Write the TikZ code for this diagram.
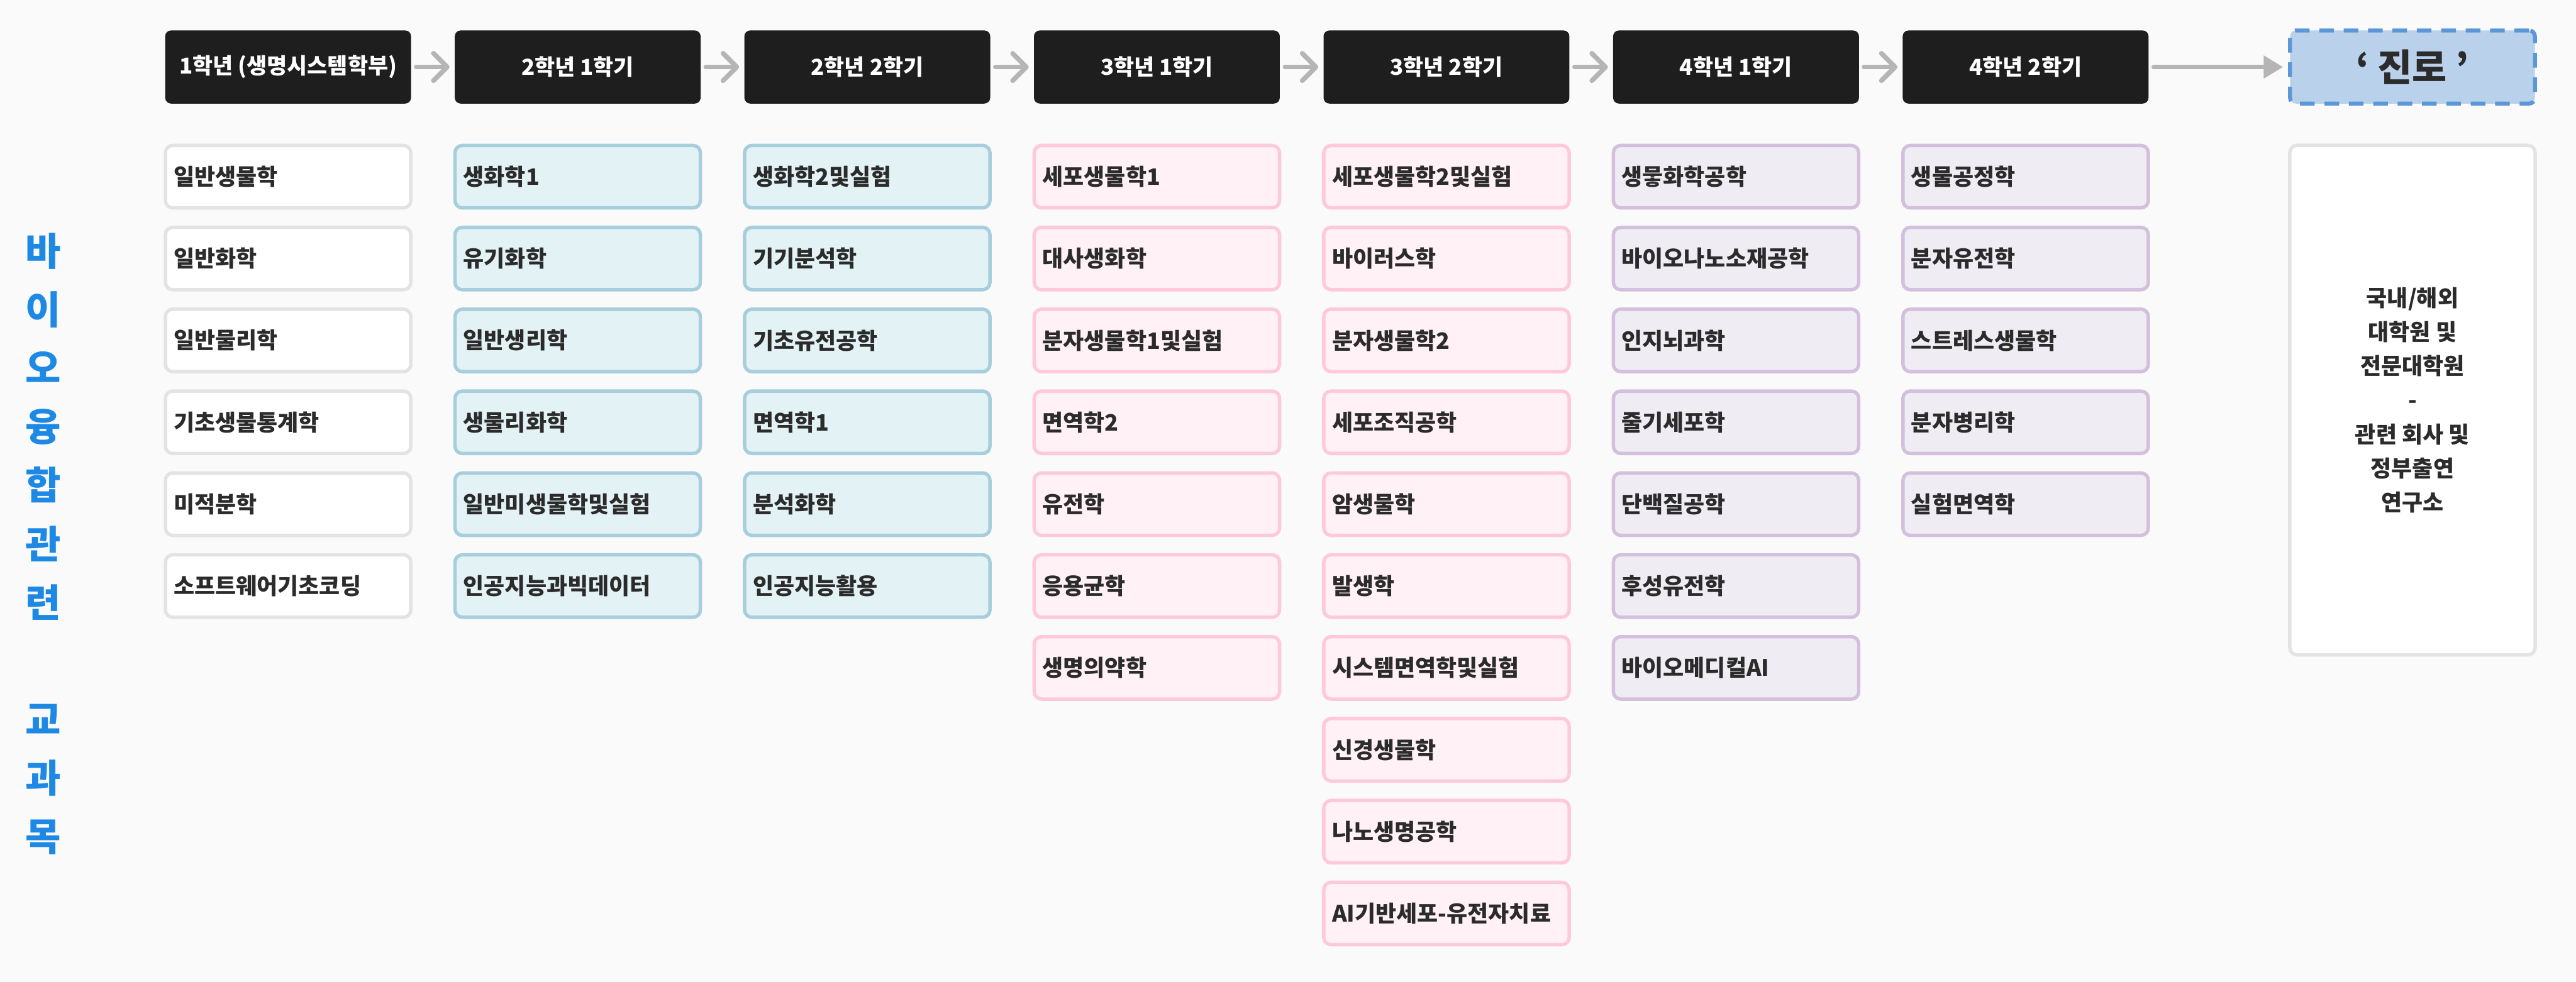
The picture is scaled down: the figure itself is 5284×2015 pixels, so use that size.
\documentclass[tikz,border=0pt]{standalone}
\usepackage{fontspec}
\setmainfont{Noto Sans CJK KR}
\usetikzlibrary{arrows.meta}
\definecolor{bgc}{HTML}{FAFAFA}
\definecolor{hdrc}{HTML}{1E1E1E}
\definecolor{arrc}{HTML}{B5B5B5}
\definecolor{txtc}{HTML}{2B2B2B}
\definecolor{ttlc}{HTML}{1E88E5}
\definecolor{wfill}{HTML}{FFFFFF}
\definecolor{wdraw}{HTML}{E3E3E3}
\definecolor{cfill}{HTML}{E2F2F5}
\definecolor{cdraw}{HTML}{A6CEDC}
\definecolor{pfill}{HTML}{FFF1F6}
\definecolor{pdraw}{HTML}{FFC9DC}
\definecolor{vfill}{HTML}{EFECF3}
\definecolor{vdraw}{HTML}{D3C0DC}
\definecolor{jfill}{HTML}{B9D1EB}
\definecolor{jdraw}{HTML}{5B96D6}
\tikzset{
  hdr/.style={rectangle, rounded corners=0.12cm, fill=hdrc, text=white,
    minimum width=5.04cm, minimum height=1.5cm, inner sep=0pt,
    font=\bfseries\fontsize{12.8pt}{15pt}\selectfont},
  course/.style={rectangle, rounded corners=0.15cm, line width=2pt,
    text width=4.69cm, align=left, inner xsep=0.17cm, inner ysep=0pt,
    minimum height=1.28cm, text=txtc,
    font=\bfseries\fontsize{13.2pt}{15.5pt}\selectfont},
  wbox/.style={course, fill=wfill, draw=wdraw},
  cbox/.style={course, fill=cfill, draw=cdraw},
  pbox/.style={course, fill=pfill, draw=pdraw},
  vbox/.style={course, fill=vfill, draw=vdraw},
  arr/.style={draw=arrc, line width=2.8pt, line cap=round,
    shorten <=0.1cm, shorten >=0.1cm,
    -{Straight Barb[round, length=0.28cm, width=0.56cm]}},
  lastarr/.style={draw=arrc, line width=2.8pt, line cap=round,
    shorten <=0.1cm, shorten >=0.1cm,
    -{Triangle[length=0.4cm, width=0.45cm]}},
}
\begin{document}
\begin{tikzpicture}[x=0.01cm, y=-0.01cm]
\fill[bgc] (0,0) rectangle (5284,2015);
\useasboundingbox (0,0) rectangle (5284,2015);

% vertical title
\node[text=ttlc, align=center, inner sep=0pt,
  font=\bfseries\fontsize{22.5pt}{34.14pt}\selectfont] (ttl) at (88,1116)
  {바\\이\\오\\융\\합\\관\\련\\[34.14pt]교\\과\\목};

% headers
\node[hdr] (h1) at (591,137.5) {1학년 (생명시스템학부)};
\node[hdr] (h2) at (1185,137.5) {2학년 1학기};
\node[hdr] (h3) at (1779,137.5) {2학년 2학기};
\node[hdr] (h4) at (2373,137.5) {3학년 1학기};
\node[hdr] (h5) at (2967,137.5) {3학년 2학기};
\node[hdr] (h6) at (3561,137.5) {4학년 1학기};
\node[hdr] (h7) at (4155,137.5) {4학년 2학기};
\node[rectangle, rounded corners=0.12cm, fill=jfill, draw=jdraw,
  line width=2.3pt, dash pattern=on 0.3cm off 0.2cm,
  minimum width=5.02cm, minimum height=1.5cm, inner sep=0pt, text=txtc,
  font=\bfseries\fontsize{22pt}{26pt}\selectfont] (jr) at (4948.5,137.5) {‘ 진로 ’};

\draw[arr] (h1.east) -- (h2.west);
\draw[arr] (h2.east) -- (h3.west);
\draw[arr] (h3.east) -- (h4.west);
\draw[arr] (h4.east) -- (h5.west);
\draw[arr] (h5.east) -- (h6.west);
\draw[arr] (h6.east) -- (h7.west);
\draw[lastarr] (h7.east) -- (jr.west);

% course columns
\foreach \t [count=\j from 0] in {일반생물학, 일반화학, 일반물리학, 기초생물통계학, 미적분학, 소프트웨어기초코딩}
  \node[wbox] (a\j) at (591,362.5+168*\j) {\t};
\foreach \t [count=\j from 0] in {생화학1, 유기화학, 일반생리학, 생물리화학, 일반미생물학및실험, 인공지능과빅데이터}
  \node[cbox] (b\j) at (1185,362.5+168*\j) {\t};
\foreach \t [count=\j from 0] in {생화학2및실험, 기기분석학, 기초유전공학, 면역학1, 분석화학, 인공지능활용}
  \node[cbox] (c\j) at (1779,362.5+168*\j) {\t};
\foreach \t [count=\j from 0] in {세포생물학1, 대사생화학, 분자생물학1및실험, 면역학2, 유전학, 응용균학, 생명의약학}
  \node[pbox] (d\j) at (2373,362.5+168*\j) {\t};
\foreach \t [count=\j from 0] in {세포생물학2및실험, 바이러스학, 분자생물학2, 세포조직공학, 암생물학, 발생학, 시스템면역학및실험, 신경생물학, 나노생명공학, AI기반세포-유전자치료}
  \node[pbox] (e\j) at (2967,362.5+168*\j) {\t};
\foreach \t [count=\j from 0] in {생뭏화학공학, 바이오나노소재공학, 인지뇌과학, 줄기세포학, 단백질공학, 후성유전학, 바이오메디컬AI}
  \node[vbox] (f\j) at (3561,362.5+168*\j) {\t};
\foreach \t [count=\j from 0] in {생물공정학, 분자유전학, 스트레스생물학, 분자병리학, 실험면역학}
  \node[vbox] (g\j) at (4155,362.5+168*\j) {\t};

% career box
\node[rectangle, rounded corners=0.15cm, line width=2pt, fill=wfill, draw=wdraw,
  minimum width=5.03cm, minimum height=10.45cm, inner sep=0pt, align=center,
  text=txtc, font=\bfseries\fontsize{13.2pt}{19.9pt}\selectfont] (car) at (4948.5,821)
  {국내/해외\\대학원 및\\전문대학원\\-\\관련 회사 및\\정부출연\\연구소};
\end{tikzpicture}
\end{document}
